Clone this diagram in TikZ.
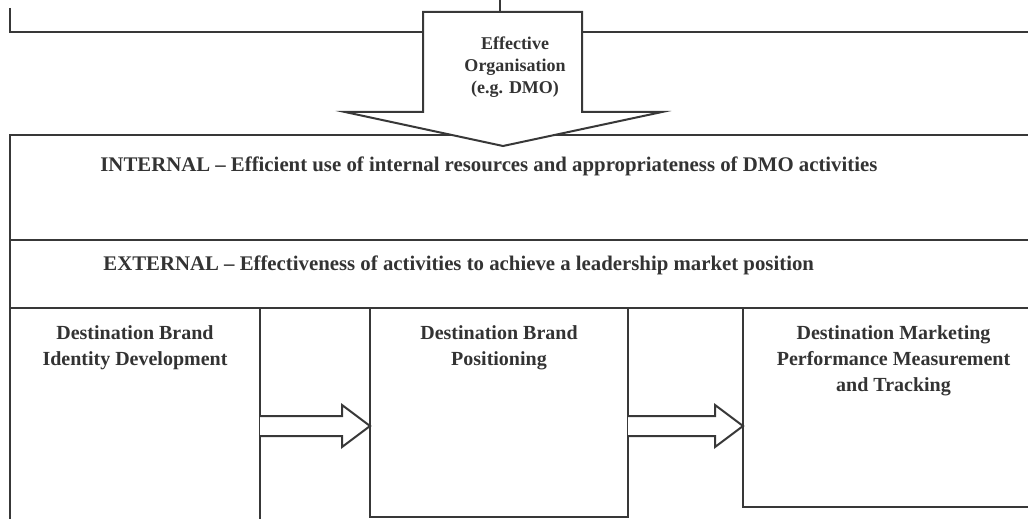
\documentclass[tikz,border=0pt]{standalone}
\usepackage{fontspec}
\setmainfont{Liberation Serif}
\usetikzlibrary{positioning,calc}

\tikzset{
  frame/.style={draw=black!78, line width=1pt},
  band/.style={frame, rectangle, anchor=north west, inner sep=0pt, outer sep=0pt, minimum width=515pt},
  stagebox/.style={frame, rectangle, anchor=north west, inner sep=0pt, outer sep=0pt},
  stagetext/.style={font=\bfseries\fontsize{10}{13}\selectfont, align=center, text=black!80, inner sep=0pt, anchor=north},
  bandtext/.style={font=\bfseries\fontsize{10.4}{12}\selectfont, anchor=west, text=black!80, inner sep=0pt},
  orgtext/.style={font=\bfseries\fontsize{9}{11}\selectfont, align=center, text=black!80, inner sep=0pt},
  blockarrow/.style={frame, fill=white, line join=miter},
}

% block arrow from a tail point to a tip point
\newcommand{\flowarrow}[2]{%
  \draw[blockarrow] ($(#1)+(0,-10)$) -- ($(#2)+(-28,-10)$) -- ($(#2)+(-28,-21)$)
    -- (#2) -- ($(#2)+(-28,21)$) -- ($(#2)+(-28,10)$) -- ($(#1)+(0,10)$);
}

\begin{document}
\begin{tikzpicture}[x=0.5pt,y=-0.5pt]
\useasboundingbox (0,0) rectangle (1028,519);
\clip (0,0) rectangle (1028,519);

% top frame
\coordinate (topleft) at (10,8);
\coordinate (topright) at (1040,32);
\draw[frame] (topleft) |- (topright);

% internal / external bands
\node[band, minimum height=52.5pt] (internal) at (10,135) {};
\node[band, minimum height=34pt] (external) at (internal.south west) {};
\node[bandtext] (intlabel) at (100,166) {INTERNAL -- Efficient use of internal resources and appropriateness of DMO activities};
\node[bandtext] (extlabel) at (103,265) {EXTERNAL -- Effectiveness of activities to achieve a leadership market position};

% three stages
\node[stagebox, minimum width=125pt, minimum height=116pt] (ident) at (external.south west) {};
\node[stagebox, minimum width=129pt, minimum height=104.5pt] (posit) at (370,308) {};
\node[stagebox, minimum width=148.5pt, minimum height=99.5pt] (track) at (743,308) {};

\node[stagetext, below=8.5pt of ident.north] (identlabel) {Destination Brand\\Identity Development};
\node[stagetext, below=8.5pt of posit.north] (positlabel) {Destination Brand\\Positioning};
\node[stagetext, xshift=1pt, below=8.5pt of track.north] (tracklabel) {Destination Marketing\\Performance Measurement\\and Tracking};

% organisation arrow
\coordinate (orgtop) at (502,12);
\draw[blockarrow] (orgtop) -- ++(80,0) -- ++(0,100) -- ++(80,0) -- ++(-159,34)
  -- ++(-158,-34) -- ++(78,0) -- ++(0,-100) -- cycle;
\coordinate (above) at (500,0);
\draw[frame] (above) -- (orgtop -| above);
\node[orgtext] (orglabel) at (515,67) {Effective\\Organisation\\(e.g. DMO)};

% flow arrows
\coordinate (a1) at ($(ident.north east)+(0,118)$);
\coordinate (b1) at ($(posit.north west)+(0,118)$);
\coordinate (a2) at ($(posit.north east)+(0,118)$);
\coordinate (b2) at ($(track.north west)+(0,118)$);
\flowarrow{a1}{b1}
\flowarrow{a2}{b2}
\end{tikzpicture}
\end{document}
